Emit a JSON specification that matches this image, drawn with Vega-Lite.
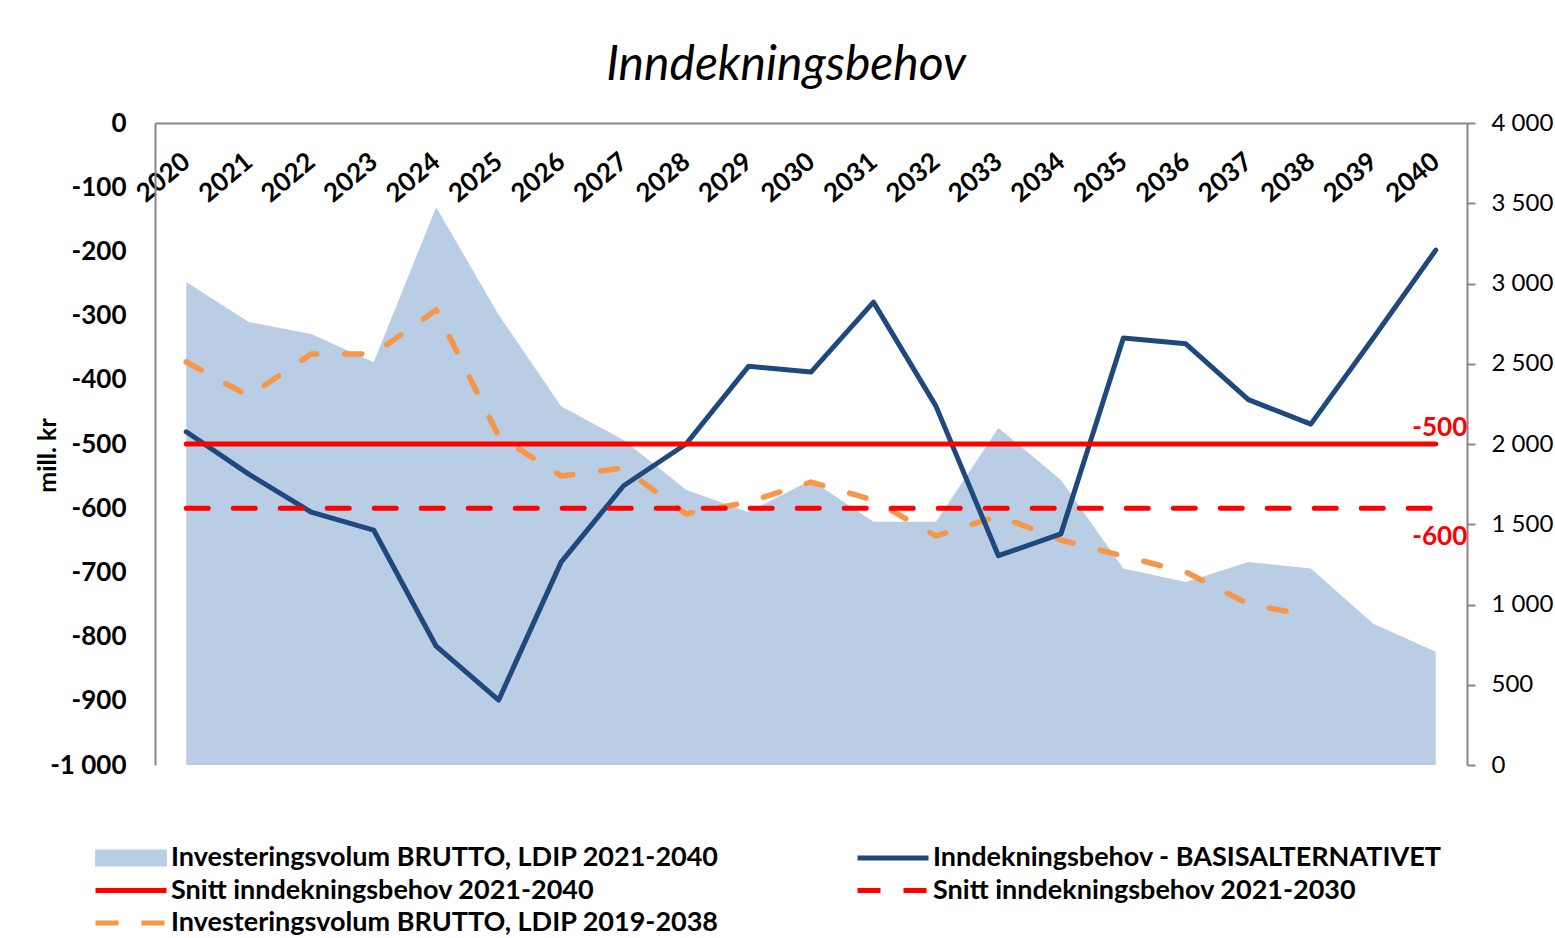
{
  "$schema": "https://vega.github.io/schema/vega-lite/v6.json",
  "width": 1312,
  "height": 642,
  "autosize": {"type": "none"},
  "padding": {"left": 155, "top": 123, "right": 88, "bottom": 173},
  "background": "#ffffff",
  "config": {"font": "Lato", "view": {"stroke": null}},
  "title": {"text": "Inndekningsbehov", "font": "Lato", "fontSize": 48, "fontStyle": "italic", "fontWeight": "normal", "color": "#000000", "anchor": "middle", "dx": -25, "offset": 20},
  "datasets": {
    "area": [
      {"year": "2020", "value": 3010}, {"year": "2021", "value": 2760}, {"year": "2022", "value": 2685},
      {"year": "2023", "value": 2510}, {"year": "2024", "value": 3475}, {"year": "2025", "value": 2805},
      {"year": "2026", "value": 2235}, {"year": "2027", "value": 2025}, {"year": "2028", "value": 1715},
      {"year": "2029", "value": 1575}, {"year": "2030", "value": 1775}, {"year": "2031", "value": 1515},
      {"year": "2032", "value": 1515}, {"year": "2033", "value": 2100}, {"year": "2034", "value": 1775},
      {"year": "2035", "value": 1225}, {"year": "2036", "value": 1140}, {"year": "2037", "value": 1265},
      {"year": "2038", "value": 1225}, {"year": "2039", "value": 880}, {"year": "2040", "value": 705}
    ],
    "ldip19": [
      {"year": "2020", "value": 2511}, {"year": "2021", "value": 2299}, {"year": "2022", "value": 2561},
      {"year": "2023", "value": 2561}, {"year": "2024", "value": 2835}, {"year": "2025", "value": 2050},
      {"year": "2026", "value": 1801}, {"year": "2027", "value": 1850}, {"year": "2028", "value": 1564},
      {"year": "2029", "value": 1639}, {"year": "2030", "value": 1763}, {"year": "2031", "value": 1651},
      {"year": "2032", "value": 1427}, {"year": "2033", "value": 1551}, {"year": "2034", "value": 1402},
      {"year": "2035", "value": 1302}, {"year": "2036", "value": 1202}, {"year": "2037", "value": 1003},
      {"year": "2038", "value": 928}
    ],
    "basis": [
      {"year": "2020", "value": -481}, {"year": "2021", "value": -547}, {"year": "2022", "value": -606},
      {"year": "2023", "value": -634}, {"year": "2024", "value": -815}, {"year": "2025", "value": -899},
      {"year": "2026", "value": -684}, {"year": "2027", "value": -565}, {"year": "2028", "value": -500},
      {"year": "2029", "value": -379}, {"year": "2030", "value": -388}, {"year": "2031", "value": -279},
      {"year": "2032", "value": -441}, {"year": "2033", "value": -674}, {"year": "2034", "value": -640},
      {"year": "2035", "value": -335}, {"year": "2036", "value": -344}, {"year": "2037", "value": -431},
      {"year": "2038", "value": -469}, {"year": "2039", "value": -335}, {"year": "2040", "value": -198}
    ],
    "snitt40": [{"year": "2020", "value": -500}, {"year": "2040", "value": -500}],
    "snitt30": [{"year": "2020", "value": -600}, {"year": "2040", "value": -600}]
  },
  "encoding": {
    "x": {
      "field": "year", "type": "ordinal",
      "scale": {"type": "point", "padding": 0.5},
      "axis": {"orient": "bottom", "offset": -642, "title": null, "labelAngle": -40, "labelAlign": "right", "labelBaseline": "middle", "labelPadding": 35, "labelFont": "Lato", "labelFontSize": 26, "labelFontWeight": "bold", "labelColor": "#000000", "ticks": false, "tickSize": 0, "domainColor": "#868686", "domainWidth": 2, "labelOverlap": false, "grid": false}
    }
  },
  "layer": [
    {
      "encoding": {
        "y": {
          "field": "value", "type": "quantitative",
          "scale": {"domain": [0, 4000], "nice": false},
          "axis": {"orient": "right", "title": null, "values": [0, 500, 1000, 1500, 2000, 2500, 3000, 3500, 4000], "labelExpr": "replace(format(datum.value, ','), ',', ' ')", "labelFont": "Lato", "labelFontSize": 24, "labelFontWeight": "normal", "labelColor": "#000000", "tickSize": 8, "tickColor": "#868686", "tickWidth": 2, "labelPadding": 16, "domainColor": "#868686", "domainWidth": 2, "grid": false}
        }
      },
      "layer": [
        {
          "data": {"name": "area"},
          "mark": {"type": "area", "opacity": 1},
          "encoding": {
            "color": {
              "datum": "Investeringsvolum BRUTTO, LDIP 2021-2040", "type": "nominal",
              "scale": {
                "domain": ["Investeringsvolum BRUTTO, LDIP 2021-2040", "Snitt inndekningsbehov 2021-2040", "Investeringsvolum BRUTTO, LDIP 2019-2038", "Inndekningsbehov - BASISALTERNATIVET", "Snitt inndekningsbehov 2021-2030"],
                "range": ["#b9cde5", "#ff0000", "#f79646", "#1f497d", "#ff0000"]
              },
              "legend": {
                "title": null, "orient": "none", "legendX": -62, "legendY": 722, "columns": 2, "columnPadding": 136, "rowPadding": 5.5,
                "symbolSize": 5041, "symbolStrokeWidth": 5, "clipHeight": 26, "symbolType": "stroke",
                "labelFont": "Lato", "labelFontSize": 27, "labelFontWeight": "bold", "labelColor": "#000000", "labelLimit": 1000, "labelOffset": 2,
                "encode": {
                  "symbols": {
                    "update": {
                      "shape": [{"test": "indexof(datum.label, '2021-2040') >= 0 && indexof(datum.label, 'Investeringsvolum') >= 0", "value": "M-0.94,-0.17H0.94V0.17H-0.94Z"}, {"value": "stroke"}],
                      "fill": [{"test": "indexof(datum.label, '2021-2040') >= 0 && indexof(datum.label, 'Investeringsvolum') >= 0", "value": "#b9cde5"}, {"value": "transparent"}],
                      "stroke": [{"test": "indexof(datum.label, '2021-2040') >= 0 && indexof(datum.label, 'Investeringsvolum') >= 0", "value": "#b9cde5"}, {"scale": "color", "field": "value"}],
                      "strokeWidth": {"value": 5},
                      "strokeDash": [{"test": "indexof(datum.label, '2021-2030') >= 0 || indexof(datum.label, '2019-2038') >= 0", "value": [23, 23]}, {"value": [1, 0]}],
                      "opacity": {"value": 1}
                    }
                  }
                }
              }
            }
          }
        },
        {
          "data": {"name": "ldip19"},
          "mark": {"type": "line", "strokeWidth": 5.5, "strokeDash": [17, 28], "strokeCap": "round", "strokeJoin": "round"},
          "encoding": {"color": {"datum": "Investeringsvolum BRUTTO, LDIP 2019-2038", "type": "nominal",
            "legend": {
                "title": null, "orient": "none", "legendX": -62, "legendY": 722, "columns": 2, "columnPadding": 136, "rowPadding": 5.5,
                "symbolSize": 5041, "symbolStrokeWidth": 5, "clipHeight": 26, "symbolType": "stroke",
                "labelFont": "Lato", "labelFontSize": 27, "labelFontWeight": "bold", "labelColor": "#000000", "labelLimit": 1000, "labelOffset": 2,
                "encode": {
                  "symbols": {
                    "update": {
                      "shape": [{"test": "indexof(datum.label, '2021-2040') >= 0 && indexof(datum.label, 'Investeringsvolum') >= 0", "value": "M-0.94,-0.17H0.94V0.17H-0.94Z"}, {"value": "stroke"}],
                      "fill": [{"test": "indexof(datum.label, '2021-2040') >= 0 && indexof(datum.label, 'Investeringsvolum') >= 0", "value": "#b9cde5"}, {"value": "transparent"}],
                      "stroke": [{"test": "indexof(datum.label, '2021-2040') >= 0 && indexof(datum.label, 'Investeringsvolum') >= 0", "value": "#b9cde5"}, {"scale": "color", "field": "value"}],
                      "strokeWidth": {"value": 5},
                      "strokeDash": [{"test": "indexof(datum.label, '2021-2030') >= 0 || indexof(datum.label, '2019-2038') >= 0", "value": [23, 23]}, {"value": [1, 0]}],
                      "opacity": {"value": 1}
                    }
                  }
                }
            }}}
        }
      ]
    },
    {
      "encoding": {
        "y": {
          "field": "value", "type": "quantitative",
          "scale": {"domain": [-1000, 0], "nice": false, "zero": false},
          "axis": {"orient": "left", "title": "mill. kr", "values": [-1000, -900, -800, -700, -600, -500, -400, -300, -200, -100, 0], "labelExpr": "datum.value == 0 ? '0' : '-' + replace(format(abs(datum.value), ','), ',', ' ')", "labelFont": "Lato", "labelFontSize": 26, "labelFontWeight": "bold", "labelColor": "#000000", "ticks": false, "tickSize": 0, "labelPadding": 29, "domainColor": "#868686", "domainWidth": 2, "grid": false, "titleFont": "Lato", "titleFontSize": 25, "titleFontWeight": "bold", "titleColor": "#000000", "titlePadding": -11, "titleY": 332}
        }
      },
      "layer": [
        {
          "data": {"name": "basis"},
          "mark": {"type": "line", "strokeWidth": 5, "strokeJoin": "round", "strokeCap": "round"},
          "encoding": {"color": {"datum": "Inndekningsbehov - BASISALTERNATIVET", "type": "nominal",
            "legend": {
                "title": null, "orient": "none", "legendX": -62, "legendY": 722, "columns": 2, "columnPadding": 136, "rowPadding": 5.5,
                "symbolSize": 5041, "symbolStrokeWidth": 5, "clipHeight": 26, "symbolType": "stroke",
                "labelFont": "Lato", "labelFontSize": 27, "labelFontWeight": "bold", "labelColor": "#000000", "labelLimit": 1000, "labelOffset": 2,
                "encode": {
                  "symbols": {
                    "update": {
                      "shape": [{"test": "indexof(datum.label, '2021-2040') >= 0 && indexof(datum.label, 'Investeringsvolum') >= 0", "value": "M-0.94,-0.17H0.94V0.17H-0.94Z"}, {"value": "stroke"}],
                      "fill": [{"test": "indexof(datum.label, '2021-2040') >= 0 && indexof(datum.label, 'Investeringsvolum') >= 0", "value": "#b9cde5"}, {"value": "transparent"}],
                      "stroke": [{"test": "indexof(datum.label, '2021-2040') >= 0 && indexof(datum.label, 'Investeringsvolum') >= 0", "value": "#b9cde5"}, {"scale": "color", "field": "value"}],
                      "strokeWidth": {"value": 5},
                      "strokeDash": [{"test": "indexof(datum.label, '2021-2030') >= 0 || indexof(datum.label, '2019-2038') >= 0", "value": [23, 23]}, {"value": [1, 0]}],
                      "opacity": {"value": 1}
                    }
                  }
                }
            }}}
        },
        {
          "data": {"name": "snitt40"},
          "mark": {"type": "line", "strokeWidth": 5, "strokeCap": "round"},
          "encoding": {"color": {"datum": "Snitt inndekningsbehov 2021-2040", "type": "nominal",
            "legend": {
                "title": null, "orient": "none", "legendX": -62, "legendY": 722, "columns": 2, "columnPadding": 136, "rowPadding": 5.5,
                "symbolSize": 5041, "symbolStrokeWidth": 5, "clipHeight": 26, "symbolType": "stroke",
                "labelFont": "Lato", "labelFontSize": 27, "labelFontWeight": "bold", "labelColor": "#000000", "labelLimit": 1000, "labelOffset": 2,
                "encode": {
                  "symbols": {
                    "update": {
                      "shape": [{"test": "indexof(datum.label, '2021-2040') >= 0 && indexof(datum.label, 'Investeringsvolum') >= 0", "value": "M-0.94,-0.17H0.94V0.17H-0.94Z"}, {"value": "stroke"}],
                      "fill": [{"test": "indexof(datum.label, '2021-2040') >= 0 && indexof(datum.label, 'Investeringsvolum') >= 0", "value": "#b9cde5"}, {"value": "transparent"}],
                      "stroke": [{"test": "indexof(datum.label, '2021-2040') >= 0 && indexof(datum.label, 'Investeringsvolum') >= 0", "value": "#b9cde5"}, {"scale": "color", "field": "value"}],
                      "strokeWidth": {"value": 5},
                      "strokeDash": [{"test": "indexof(datum.label, '2021-2030') >= 0 || indexof(datum.label, '2019-2038') >= 0", "value": [23, 23]}, {"value": [1, 0]}],
                      "opacity": {"value": 1}
                    }
                  }
                }
            }}}
        },
        {
          "data": {"name": "snitt30"},
          "mark": {"type": "line", "strokeWidth": 5, "strokeDash": [22, 25], "strokeCap": "round"},
          "encoding": {"color": {"datum": "Snitt inndekningsbehov 2021-2030", "type": "nominal",
            "legend": {
                "title": null, "orient": "none", "legendX": -62, "legendY": 722, "columns": 2, "columnPadding": 136, "rowPadding": 5.5,
                "symbolSize": 5041, "symbolStrokeWidth": 5, "clipHeight": 26, "symbolType": "stroke",
                "labelFont": "Lato", "labelFontSize": 27, "labelFontWeight": "bold", "labelColor": "#000000", "labelLimit": 1000, "labelOffset": 2,
                "encode": {
                  "symbols": {
                    "update": {
                      "shape": [{"test": "indexof(datum.label, '2021-2040') >= 0 && indexof(datum.label, 'Investeringsvolum') >= 0", "value": "M-0.94,-0.17H0.94V0.17H-0.94Z"}, {"value": "stroke"}],
                      "fill": [{"test": "indexof(datum.label, '2021-2040') >= 0 && indexof(datum.label, 'Investeringsvolum') >= 0", "value": "#b9cde5"}, {"value": "transparent"}],
                      "stroke": [{"test": "indexof(datum.label, '2021-2040') >= 0 && indexof(datum.label, 'Investeringsvolum') >= 0", "value": "#b9cde5"}, {"scale": "color", "field": "value"}],
                      "strokeWidth": {"value": 5},
                      "strokeDash": [{"test": "indexof(datum.label, '2021-2030') >= 0 || indexof(datum.label, '2019-2038') >= 0", "value": [23, 23]}, {"value": [1, 0]}],
                      "opacity": {"value": 1}
                    }
                  }
                }
            }}}
        },
        {
          "data": {"values": [{"year": "2040", "value": -500, "label": "-500"}]},
          "mark": {"type": "text", "color": "#ff0000", "font": "Lato", "fontSize": 26, "fontWeight": "bold", "align": "center", "baseline": "alphabetic", "dx": 4, "dy": -8},
          "encoding": {"text": {"field": "label"}}
        },
        {
          "data": {"values": [{"year": "2040", "value": -600, "label": "-600"}]},
          "mark": {"type": "text", "color": "#ff0000", "font": "Lato", "fontSize": 26, "fontWeight": "bold", "align": "center", "baseline": "alphabetic", "dx": 4, "dy": 37},
          "encoding": {"text": {"field": "label"}}
        }
      ]
    }
  ],
  "resolve": {"scale": {"y": "independent"}}
}
